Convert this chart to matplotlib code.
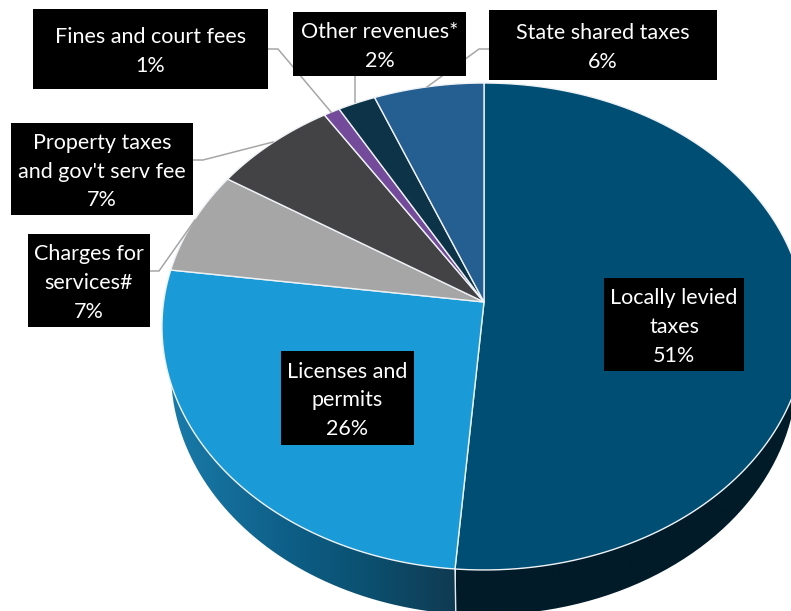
# 3D look pie chart: revenue sources, drawn on pixel coordinates

import numpy as np
import matplotlib
matplotlib.use("Agg")
import matplotlib.pyplot as plt
from matplotlib.patches import PathPatch, Rectangle
from matplotlib.path import Path

plt.rcParams["font.family"] = ["Lato", "DejaVu Sans"]

# clockwise from 12 o'clock
categories = ["Locally levied\ntaxes", "Licenses and\npermits", "Charges for\nservices#",
              "Property taxes\nand gov't serv fee", "Fines and court fees",
              "Other revenues*", "State shared taxes"]
shares = [51.4, 25.9, 6.9, 6.9, 0.9, 2.1, 6.1]
percent_labels = ["51%", "26%", "7%", "7%", "1%", "2%", "6%"]
colors = ["#014e74", "#1a9bd7", "#a6a6a6", "#434245", "#744b9a", "#0d3349", "#255e91"]

# label boxes in pixels: left, top, right, bottom
boxes = [(604, 278, 744, 371), (281, 351, 414, 445), (28, 234, 150, 327),
         (11, 123, 193, 215), (33, 9, 268, 89), (293, 12, 466, 76), (489, 10, 717, 80)]

# leader lines, pixels
leaders = [None, None,
           [(150, 271), (159, 271), (195, 220)],
           [(193, 160), (203, 160), (273, 142)],
           [(268, 49), (278, 49), (331, 112)],
           [(355, 76), (355, 102)],
           [(489, 49), (479, 49), (427, 87)]]

# projection of the disc
CX, CY = 484, 302
K = 0.1006
A, B = 241, 320.4
BASE_SX = 0.972
BASE_DROP = 45


def project(theta, sx=1.0, drop=0.0):
    u, v = np.sin(theta), np.cos(theta)
    den = 1 + K * v
    return CX + sx * B * u / den, CY + drop - A * v / den


def side_patch(t0, t1, ax):
    # band between the rim and the lower edge
    t = np.linspace(t0, t1, 200)
    x0, y0 = project(t)
    x1, y1 = project(t[::-1], BASE_SX, BASE_DROP)
    verts = np.column_stack([np.r_[x0, x1, x0[0]], np.r_[y0, y1, y0[0]]])
    patch = PathPatch(Path(verts), transform=ax.transData, facecolor="none", edgecolor="none")
    ax.add_patch(patch)
    return patch


fig = plt.figure(figsize=(7.91, 6.11), dpi=100)
ax = fig.add_axes([0, 0, 1, 1])

edges = np.r_[0, np.cumsum(shares)] / np.sum(shares) * 2 * np.pi

# sides, only the two big slices show
side_stops = [
    [(0.0, "#011b29"), (1.0, "#011b29")],
    [(0.0, "#103a52"), (0.3, "#0b5070"), (0.55, "#0d5d85"), (1.0, "#1a7cab")],
]
for i, stops in enumerate(side_stops):
    patch = side_patch(edges[i], edges[i + 1], ax)
    pos = [s[0] for s in stops]
    rgb = np.array([matplotlib.colors.to_rgb(s[1]) for s in stops])
    grid = np.linspace(0, 1, 256)
    img = np.stack([np.interp(grid, pos, rgb[:, c]) for c in range(3)], axis=1)[None, :, :]
    if i == 0:
        extent = (456, 820, 640, 380)
    else:
        img = img[:, ::-1, :]
        extent = (165, 456, 640, 380)
    im = ax.imshow(img, extent=extent, aspect="auto", zorder=1)
    im.set_clip_path(patch)

# seam on the side between the two big slices
x0, y0 = project(edges[1])
x1, y1 = project(edges[1], BASE_SX, BASE_DROP)
ax.plot([x0, x1], [y0, y1], color="#e4eaee", lw=1.0, zorder=2)

# top of the pie
for i, color in enumerate(colors):
    t = np.linspace(edges[i], edges[i + 1], 200)
    x, y = project(t)
    ax.fill(np.r_[CX, x], np.r_[CY, y], facecolor=color, edgecolor="#eef2f5", lw=1.0, zorder=3,
            joinstyle="round")

for line in leaders:
    if line is not None:
        ax.plot(*zip(*line), color="#a6a6a6", lw=1.1, zorder=4)

for name, pct, (l, t, r, b) in zip(categories, percent_labels, boxes):
    ax.add_patch(Rectangle((l, t), r - l, b - t, facecolor="black", edgecolor="none", zorder=5))
    ax.text((l + r) / 2, (t + b) / 2 + 2.5, f"{name}\n{pct}", color="white", fontsize=15.5,
            ha="center", va="center", linespacing=1.56, zorder=6)

ax.set_xlim(0, 791)
ax.set_ylim(611, 0)
ax.axis("off")

fig.savefig("out.png", dpi=100)
